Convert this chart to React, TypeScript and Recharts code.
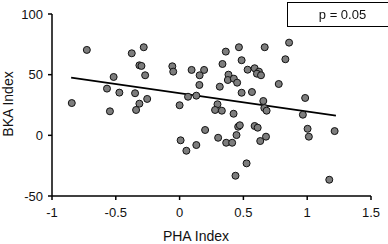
import { ScatterChart, Scatter, XAxis, YAxis } from "recharts";

// PHA index (x) vs BKA index (y)
const phaValues = [
  -0.845, -0.727, -0.375, -0.281, -0.315, -0.299, -0.27, -0.517, -0.569, -0.472,
  -0.349, -0.254, -0.315, -0.341, -0.546, -0.057, -0.05, 0.0, 0.008, 0.053,
  0.131, 0.066, 0.131, 0.094, 0.157, 0.192, 0.155, 0.2, 0.362, 0.465,
  0.667, 0.858, 0.829, 0.336, 0.486, 0.533, 0.588, 0.622, 0.606, 0.638,
  0.383, 0.378, 0.425, 0.451, 0.315, 0.486, 0.567, 0.777, 0.984, 0.656,
  0.297, 0.278, 0.331, 0.423, 0.664, 0.682, 0.966, 0.459, 0.472, 0.446,
  0.588, 0.612, 0.302, 0.365, 0.412, 0.632, 0.677, 1.003, 1.013, 1.215,
  0.525, 0.438, 1.173,
];

const bkaValues = [
  26.6, 70.4, 67.6, 72.6, 57.7, 57.2, 49.5, 48.1, 38.5, 35.2,
  34.7, 30, 26.1, 20.9, 19.8, 56.9, 52.5, 24.8, -4.1, -12.7,
  -8, 31.8, 32.7, 53.9, 49.5, 53.9, 41.5, 4.4, 69, 72.6,
  72.6, 76.4, 62.7, 58.8, 61.9, 54.1, 55.3, 52.5, 50.8, 49.5,
  50, 45.6, 46.7, 43.4, 40.1, 35.1, 35.7, 42.3, 30.8, 28.3,
  25.6, 20.9, 20.3, 17.8, 22.5, 20.3, 17, 7.1, 8.3, 0.2,
  7.7, 6.3, -2, -6.1, -6.1, -4.7, -1.1, 5.4, -1.1, 3.5,
  -23.1, -33.3, -36.6,
];

// end points of the fitted line
const trendX = [-0.85, 1.225];
const trendY = [47.5, 16.2];

const xTicks = [-1, -0.5, 0, 0.5, 1, 1.5];
const yTicks = [-50, 0, 50, 100];

const points = phaValues.map((x, i) => ({ x, y: bkaValues[i] }));
const trend = trendX.map((x, i) => ({ x, y: trendY[i] }));

const font = "'Liberation Sans', Arial, sans-serif";
const tickStyle = { fontSize: 13, fill: "#111", fontFamily: font };

const Dot = (props: any) => (
  <circle
    cx={props.cx}
    cy={props.cy}
    r={3.5}
    fill="#7d7d7d"
    stroke="#111"
    strokeWidth={1}
  />
);

export default function App() {
  return (
    <div style={{ position: "fixed", left: 0, top: 0, width: 388, height: 244, background: "#fff" }}>
      <ScatterChart
        width={388}
        height={244}
        margin={{ top: 14, right: 17, bottom: 18, left: 7 }}
      >
        <XAxis
          type="number"
          dataKey="x"
          domain={[-1, 1.5]}
          ticks={xTicks}
          height={30}
          tickSize={4}
          tickMargin={8}
          tick={tickStyle}
          axisLine={{ stroke: "#000", strokeWidth: 1.5 }}
          tickLine={{ stroke: "#000", strokeWidth: 1.5 }}
          label={{
            content: () => (
              <text x={196} y={241} textAnchor="middle" fontSize={14} fontFamily={font} fill="#111">
                PHA Index
              </text>
            ),
          }}
        />
        <YAxis
          type="number"
          dataKey="y"
          domain={[-50, 100]}
          ticks={yTicks}
          width={45}
          tickSize={4}
          tickMargin={5}
          tick={tickStyle}
          axisLine={{ stroke: "#000", strokeWidth: 1.5 }}
          tickLine={{ stroke: "#000", strokeWidth: 1.5 }}
          label={{
            content: () => (
              <text
                x={13}
                y={104}
                textAnchor="middle"
                fontSize={14}
                fontFamily={font}
                fill="#111"
                transform="rotate(-90, 13, 104)"
              >
                BKA Index
              </text>
            ),
          }}
        />
        <Scatter
          data={trend}
          line={{ stroke: "#000", strokeWidth: 1.8 }}
          shape={() => <g />}
          isAnimationActive={false}
        />
        <Scatter data={points} shape={Dot} isAnimationActive={false} />
      </ScatterChart>
      <div
        style={{
          position: "absolute",
          left: 287,
          top: 2,
          width: 97,
          height: 23,
          border: "1px solid #000",
          fontFamily: font,
          fontSize: 13,
          color: "#111",
          display: "flex",
          alignItems: "center",
          justifyContent: "center",
          paddingLeft: 6,
          boxSizing: "content-box",
        }}
      >
        p = 0.05
      </div>
    </div>
  );
}
